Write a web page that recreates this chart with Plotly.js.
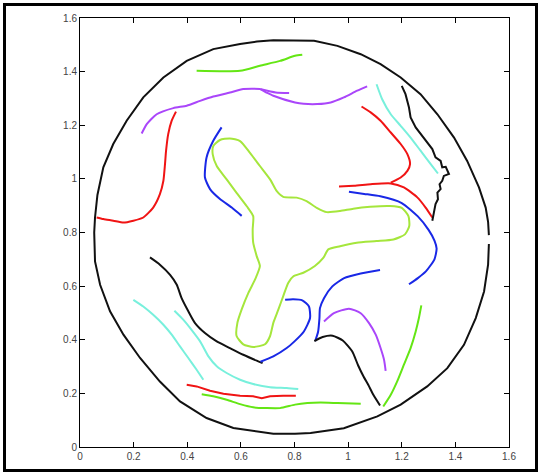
<!DOCTYPE html>
<html>
<head>
<meta charset="utf-8">
<script src="https://cdn.plot.ly/plotly-3.0.1.min.js"></script>
<style>
  html, body { margin: 0; padding: 0; background: #fff; }
  #wrap { position: relative; width: 542px; height: 474px; overflow: hidden; }
  #chart { position: absolute; left: 0; top: 0; width: 542px; height: 474px; }
  #frame { position: absolute; left: 3px; top: 3px; width: 529px; height: 463px; border: 3px solid #000; pointer-events: none; }
</style>
</head>
<body>
<div id="wrap"><div id="chart"></div><div id="frame"></div></div>
<script>
// ---- data ----
const tickVals = [0, 0.2, 0.4, 0.6, 0.8, 1, 1.2, 1.4, 1.6];
const tickText = ["0", "0.2", "0.4", "0.6", "0.8", "1", "1.2", "1.4", "1.6"];

const circleX = [1.525,1.522,1.513,1.488,1.444,1.395,1.333,1.270,1.196,1.121,1.047,0.960,0.873,0.798,0.721,0.660,0.597,0.497,0.398,0.311,0.236,0.174,0.124,0.087,0.065,0.056,0.053,0.056,0.075,0.112,0.162,0.224,0.298,0.373,0.472,0.572,0.659,0.721,0.802,0.860,0.984,1.109,1.196,1.295,1.370,1.432,1.476,1.507,1.522,1.525];
const circleY = [0.790,0.840,0.893,0.968,1.067,1.154,1.241,1.316,1.378,1.428,1.465,1.496,1.515,1.517,1.517,1.512,1.503,1.484,1.440,1.378,1.304,1.217,1.130,1.043,0.940,0.856,0.800,0.692,0.605,0.506,0.419,0.332,0.244,0.170,0.108,0.071,0.058,0.049,0.049,0.052,0.070,0.114,0.158,0.226,0.294,0.381,0.481,0.580,0.680,0.757];

const greenTopX = [0.435,0.597,0.671,0.746,0.802,0.829];
const greenTopY = [1.403,1.403,1.422,1.440,1.459,1.463];

const purpleTopX = [0.230,0.249,0.286,0.348,0.398,0.448,0.497,0.559,0.609,0.671,0.696,0.721,0.802,0.834,0.885,0.935,0.984,1.034,1.071];
const purpleTopY = [1.169,1.204,1.241,1.264,1.273,1.291,1.307,1.322,1.335,1.335,1.322,1.310,1.285,1.280,1.279,1.285,1.304,1.329,1.345];
const purpleSpurX = [0.675,0.730,0.780];
const purpleSpurY = [1.334,1.322,1.320];

const redLeftX = [0.358,0.342,0.329,0.321,0.317,0.311,0.298,0.273,0.236,0.199,0.162,0.124,0.087,0.062];
const redLeftY = [1.251,1.217,1.167,1.105,1.055,0.993,0.943,0.893,0.856,0.844,0.837,0.844,0.850,0.856];

const blueUpperX = [0.528,0.497,0.472,0.466,0.485,0.522,0.566,0.603];
const blueUpperY = [1.192,1.142,1.080,1.005,0.962,0.925,0.893,0.862];

const trefoilX = [0.497,0.522,0.559,0.597,0.634,0.671,0.709,0.734,0.758,0.808,0.845,0.883,0.920,0.970,1.019,1.082,1.156,1.200,1.225,1.228,1.212,1.169,1.106,1.032,0.970,0.926,0.908,0.876,0.833,0.796,0.777,0.758,0.740,0.721,0.709,0.690,0.646,0.609,0.584,0.587,0.603,0.628,0.653,0.671,0.659,0.646,0.644,0.646,0.622,0.584,0.547,0.510,0.495,0.497];
const trefoilY = [1.122,1.145,1.151,1.141,1.097,1.048,0.998,0.954,0.933,0.930,0.917,0.892,0.876,0.880,0.889,0.896,0.899,0.892,0.861,0.824,0.793,0.774,0.768,0.762,0.749,0.737,0.706,0.675,0.650,0.637,0.613,0.563,0.513,0.463,0.414,0.383,0.373,0.383,0.414,0.463,0.513,0.575,0.625,0.675,0.712,0.762,0.811,0.861,0.898,0.948,0.998,1.048,1.091,1.122];

const blueRightX = [1.003,1.060,1.120,1.200,1.260,1.300,1.322,1.330,1.322,1.290,1.260,1.227];
const blueRightY = [0.952,0.944,0.935,0.910,0.860,0.810,0.770,0.740,0.700,0.655,0.630,0.607];

const redUpperX = [1.050,1.084,1.121,1.159,1.196,1.221,1.231,1.221,1.196,1.159];
const redUpperY = [1.270,1.248,1.217,1.173,1.130,1.092,1.055,1.030,1.005,0.986];
const redMidX = [0.966,1.022,1.084,1.159,1.208,1.258,1.289,1.314];
const redMidY = [0.972,0.974,0.980,0.983,0.968,0.931,0.893,0.856];

const cyanUpperX = [1.106,1.127,1.159,1.196,1.233,1.270,1.308,1.335];
const cyanUpperY = [1.353,1.297,1.241,1.198,1.154,1.105,1.055,1.020];

const blackJagX = [1.200,1.214,1.227,1.233,1.252,1.277,1.295,1.314,1.326,1.345,1.351,1.364,1.376,1.357,1.351,1.341,1.345,1.333,1.335,1.326,1.320,1.314];
const blackJagY = [1.347,1.316,1.266,1.229,1.192,1.161,1.136,1.111,1.080,1.067,1.043,1.045,1.018,1.011,0.993,0.980,0.962,0.949,0.924,0.906,0.875,0.844];

const blackLeftX = [0.261,0.298,0.336,0.361,0.379,0.404,0.429,0.466,0.510,0.559,0.609,0.659,0.681];
const blackLeftY = [0.707,0.680,0.642,0.605,0.555,0.506,0.462,0.425,0.394,0.369,0.344,0.322,0.313];

const blueLowX = [0.673,0.721,0.771,0.800,0.835,0.858,0.854,0.829,0.795,0.765];
const blueLowY = [0.318,0.338,0.369,0.394,0.431,0.481,0.524,0.547,0.551,0.549];

const blueMidX = [0.877,0.888,0.893,0.895,0.910,0.941,0.985,1.047,1.119];
const blueMidY = [0.395,0.430,0.480,0.518,0.555,0.599,0.630,0.647,0.660];

const blackRightX = [0.874,0.905,0.942,0.980,1.015,1.037,1.058,1.075,1.094,1.119];
const blackRightY = [0.395,0.410,0.415,0.397,0.357,0.305,0.262,0.232,0.195,0.155];

const purpleLowX = [0.910,0.947,1.003,1.047,1.078,1.103,1.121,1.134,1.140];
const purpleLowY = [0.468,0.499,0.516,0.499,0.462,0.419,0.369,0.325,0.284];

const greenRightX = [1.131,1.159,1.183,1.208,1.233,1.252,1.264,1.273];
const greenRightY = [0.151,0.195,0.245,0.307,0.369,0.431,0.481,0.528];

const cyanOuterX = [0.199,0.236,0.273,0.311,0.342,0.373,0.404,0.435,0.460];
const cyanOuterY = [0.549,0.524,0.493,0.456,0.419,0.375,0.332,0.288,0.251];
const cyanInnerX = [0.352,0.385,0.416,0.448,0.479,0.510,0.547,0.597,0.646,0.709,0.771,0.814];
const cyanInnerY = [0.508,0.475,0.437,0.394,0.338,0.301,0.276,0.251,0.235,0.223,0.220,0.216];

const redLowX = [0.398,0.435,0.485,0.535,0.597,0.646,0.678,0.709,0.758,0.805];
const redLowY = [0.232,0.226,0.210,0.199,0.191,0.189,0.182,0.189,0.191,0.191];

const greenLowX = [0.454,0.497,0.547,0.597,0.646,0.696,0.746,0.802,0.848,0.897,0.960,1.047];
const greenLowY = [0.197,0.189,0.176,0.160,0.148,0.145,0.145,0.158,0.164,0.166,0.164,0.161];

// ---- styling ----
const BLACK = "#111111", RED = "rgb(240,20,20)", BLUE = "rgb(25,40,230)",
      PURPLE = "rgb(170,70,250)", CYAN = "rgb(120,240,220)",
      GREEN = "rgb(100,230,20)", YGREEN = "rgb(165,230,60)";

// [x, y, colour, smooth?]
const curves = [
  [circleX, circleY, BLACK, false],
  [greenTopX, greenTopY, GREEN, true],
  [purpleTopX, purpleTopY, PURPLE, true],
  [purpleSpurX, purpleSpurY, PURPLE, true],
  [redLeftX, redLeftY, RED, true],
  [blueUpperX, blueUpperY, BLUE, true],
  [trefoilX, trefoilY, YGREEN, true],
  [blueRightX, blueRightY, BLUE, true],
  [redUpperX, redUpperY, RED, true],
  [redMidX, redMidY, RED, true],
  [cyanUpperX, cyanUpperY, CYAN, true],
  [blackJagX, blackJagY, BLACK, false],
  [blackLeftX, blackLeftY, BLACK, true],
  [blueLowX, blueLowY, BLUE, true],
  [blueMidX, blueMidY, BLUE, true],
  [blackRightX, blackRightY, BLACK, true],
  [purpleLowX, purpleLowY, PURPLE, true],
  [greenRightX, greenRightY, GREEN, true],
  [cyanOuterX, cyanOuterY, CYAN, true],
  [cyanInnerX, cyanInnerY, CYAN, true],
  [redLowX, redLowY, RED, false],
  [greenLowX, greenLowY, GREEN, true]
];

const traces = curves.map(c => ({
  x: c[0], y: c[1], type: "scatter", mode: "lines",
  line: c[3] ? { color: c[2], width: 2, shape: "spline", smoothing: 0.6 }
             : { color: c[2], width: 2 },
  hoverinfo: "skip"
}));

const axisCommon = {
  range: [0, 1.6], tickvals: tickVals, ticktext: tickText,
  ticks: "inside", ticklen: 5, tickwidth: 1, tickcolor: "#000",
  showline: true, linecolor: "#000", linewidth: 1, mirror: "ticks",
  showgrid: false, zeroline: false,
  tickfont: { family: "Liberation Sans, Arial, sans-serif", size: 10, color: "#444" }
};

const layout = {
  width: 542, height: 474,
  margin: { l: 80, r: 33, t: 18, b: 27 },
  paper_bgcolor: "#fff", plot_bgcolor: "#fff",
  showlegend: false,
  xaxis: Object.assign({}, axisCommon),
  yaxis: Object.assign({}, axisCommon)
};

Plotly.newPlot("chart", traces, layout, { displayModeBar: false, staticPlot: true });
</script>
</body>
</html>
